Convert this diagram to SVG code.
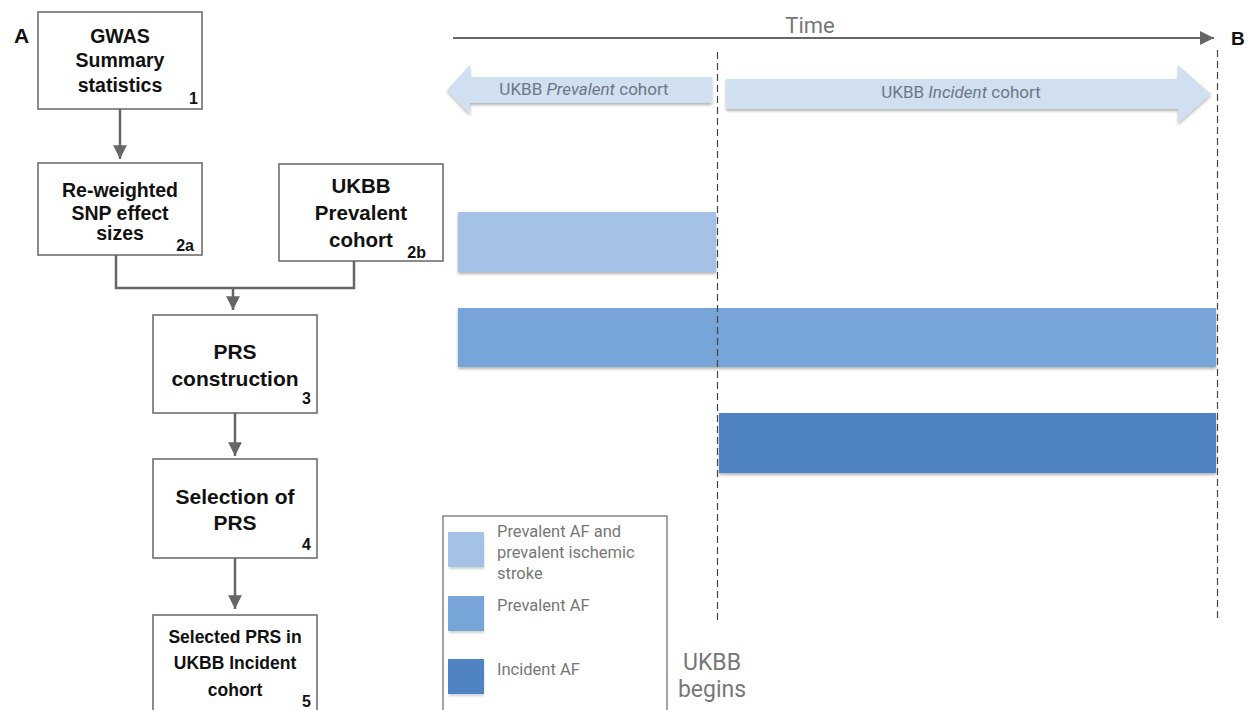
<svg xmlns="http://www.w3.org/2000/svg" width="1250" height="710" viewBox="0 0 1250 710">
<defs>
<style>
.box{fill:#fff;stroke:#666;stroke-width:1.5}
.bt{font-family:"Liberation Sans",Arial,sans-serif;font-weight:bold;fill:#111;text-anchor:middle}
.num{font-family:"Liberation Sans",Arial,sans-serif;font-weight:bold;fill:#111;font-size:16px;text-anchor:end}
.conn{fill:none;stroke:#666;stroke-width:2.5}
.gt{font-family:Roboto,"Liberation Sans",sans-serif;fill:#777}
.ct{font-family:Roboto,"Liberation Sans",sans-serif;fill:#6b7785;font-size:17px}
.dash{stroke:#444;stroke-width:1.2;stroke-dasharray:7 4;fill:none}
.lab{font-family:"Liberation Sans",Arial,sans-serif;font-weight:bold;fill:#111}
</style>
<marker id="ah" viewBox="0 0 10 10" refX="10" refY="5" markerWidth="5.5" markerHeight="5.5" markerUnits="strokeWidth" orient="auto">
<path d="M0,0 L10,5 L0,10 z" fill="#666"/>
</marker>
<marker id="ta" viewBox="0 0 10 10" refX="10" refY="5" markerWidth="7" markerHeight="7" markerUnits="strokeWidth" orient="auto">
<path d="M0,0 L10,5 L0,10 z" fill="#666"/>
</marker>
<filter id="sh" x="-5%" y="-20%" width="110%" height="150%">
<feDropShadow dx="0" dy="2" stdDeviation="1.5" flood-color="#000" flood-opacity="0.3"/>
</filter>
<filter id="sw" x="-30%" y="-30%" width="160%" height="160%">
<feGaussianBlur stdDeviation="1.2"/>
</filter>
</defs>
<rect width="1250" height="710" fill="#fff"/>

<!-- Panel labels -->
<text class="lab" x="14" y="43" font-size="21">A</text>
<text class="lab" x="1231" y="45" font-size="19">B</text>

<!-- Connectors (panel A) -->
<g id="connectors">
<line class="conn" x1="120" y1="109" x2="120" y2="159" marker-end="url(#ah)"/>
<polyline class="conn" points="116,255 116,288 354,288 354,261"/>
<line class="conn" x1="233" y1="288" x2="233" y2="310" marker-end="url(#ah)"/>
<line class="conn" x1="235" y1="413" x2="235" y2="456" marker-end="url(#ah)"/>
<line class="conn" x1="235" y1="558" x2="235" y2="609" marker-end="url(#ah)"/>
</g>

<g id="node1">
<rect class="box" x="38" y="12" width="164" height="97"/>
<text class="bt" x="120" y="43" font-size="19.5">GWAS</text>
<text class="bt" x="120" y="67" font-size="19.5">Summary</text>
<text class="bt" x="120" y="92" font-size="19.5">statistics</text>
<text class="num" x="198" y="104">1</text>
</g>
<g id="node2a">
<rect class="box" x="38" y="163" width="164" height="92"/>
<text class="bt" x="120" y="197" font-size="19.5">Re-weighted</text>
<text class="bt" x="120" y="220" font-size="19.5">SNP effect</text>
<text class="bt" x="120" y="240" font-size="19.5">sizes</text>
<text class="num" x="194" y="251">2a</text>
</g>
<g id="node2b">
<rect class="box" x="279" y="164" width="164" height="97"/>
<text class="bt" x="361" y="193" font-size="20.5">UKBB</text>
<text class="bt" x="361" y="220" font-size="20.5">Prevalent</text>
<text class="bt" x="361" y="247" font-size="20.5">cohort</text>
<text class="num" x="426" y="258">2b</text>
</g>
<g id="node3">
<rect class="box" x="153" y="315" width="164" height="98"/>
<text class="bt" x="235" y="359" font-size="21">PRS</text>
<text class="bt" x="235" y="386" font-size="21">construction</text>
<text class="num" x="311" y="404">3</text>
</g>
<g id="node4">
<rect class="box" x="153" y="459" width="164" height="99"/>
<text class="bt" x="235" y="504" font-size="21">Selection of</text>
<text class="bt" x="235" y="530" font-size="21">PRS</text>
<text class="num" x="311" y="550">4</text>
</g>
<g id="node5">
<rect class="box" x="153" y="615" width="164" height="110"/>
<text class="bt" x="235" y="643" font-size="17.5">Selected PRS in</text>
<text class="bt" x="235" y="669" font-size="17.5">UKBB Incident</text>
<text class="bt" x="235" y="696" font-size="17.5">cohort</text>
<text class="num" x="311" y="707">5</text>
</g>

<!-- Panel B -->
<g id="timeline">
<line x1="453" y1="38" x2="1214" y2="38" stroke="#666" stroke-width="2" marker-end="url(#ta)"/>
<text class="gt" x="810" y="33" font-size="22" text-anchor="middle">Time</text>
</g>

<g id="prevalent-cohort">
<polygon points="447,90 470,65 470,77 712,77 712,103 470,103 470,114" fill="#d0e0f1" filter="url(#sh)"/>
<text class="ct" x="584" y="95" text-anchor="middle">UKBB <tspan font-style="italic">Prevalent</tspan> cohort</text>
</g>
<g id="incident-cohort">
<polygon points="726,79 1178,79 1178,65 1211,94 1178,123 1178,109 726,109" fill="#d0e0f1" filter="url(#sh)"/>
<text class="ct" x="961" y="98" text-anchor="middle">UKBB <tspan font-style="italic">Incident</tspan> cohort</text>
</g>

<g id="bars">
<rect x="458" y="212" width="258" height="60" fill="#a4c2e6" filter="url(#sh)"/>
<rect x="458" y="308" width="758" height="59" fill="#78a5d8" filter="url(#sh)"/>
<rect x="719" y="413" width="497" height="60" fill="#4f83c4" filter="url(#sh)"/>
</g>

<g id="dashed-lines">
<line class="dash" x1="717.5" y1="52" x2="717.5" y2="620"/>
<line class="dash" x1="1217.5" y1="50" x2="1217.5" y2="620"/>
</g>

<g id="legend">
<rect x="443" y="516" width="224" height="210" fill="#fff" stroke="#666" stroke-width="1.2"/>
<rect x="449" y="534" width="35" height="35" fill="#9aa" opacity="0.5" filter="url(#sw)"/>
<rect x="448" y="532" width="36" height="35" fill="#a4c2e6"/>
<rect x="449" y="598" width="35" height="35" fill="#9aa" opacity="0.5" filter="url(#sw)"/>
<rect x="448" y="596" width="36" height="35" fill="#78a5d8"/>
<rect x="449" y="661" width="35" height="35" fill="#9aa" opacity="0.5" filter="url(#sw)"/>
<rect x="448" y="659" width="36" height="35" fill="#4f83c4"/>
<text class="gt" font-size="16.5" x="497" y="537">Prevalent AF and</text>
<text class="gt" font-size="16.5" x="497" y="558">prevalent ischemic</text>
<text class="gt" font-size="16.5" x="497" y="579">stroke</text>
<text class="gt" font-size="16.5" x="497" y="611">Prevalent AF</text>
<text class="gt" font-size="16.5" x="497" y="675">Incident AF</text>
</g>

<g id="ukbb-begins">
<text class="gt" x="712" y="670" font-size="23" text-anchor="middle">UKBB</text>
<text class="gt" x="712" y="697" font-size="23" text-anchor="middle">begins</text>
</g>
</svg>
